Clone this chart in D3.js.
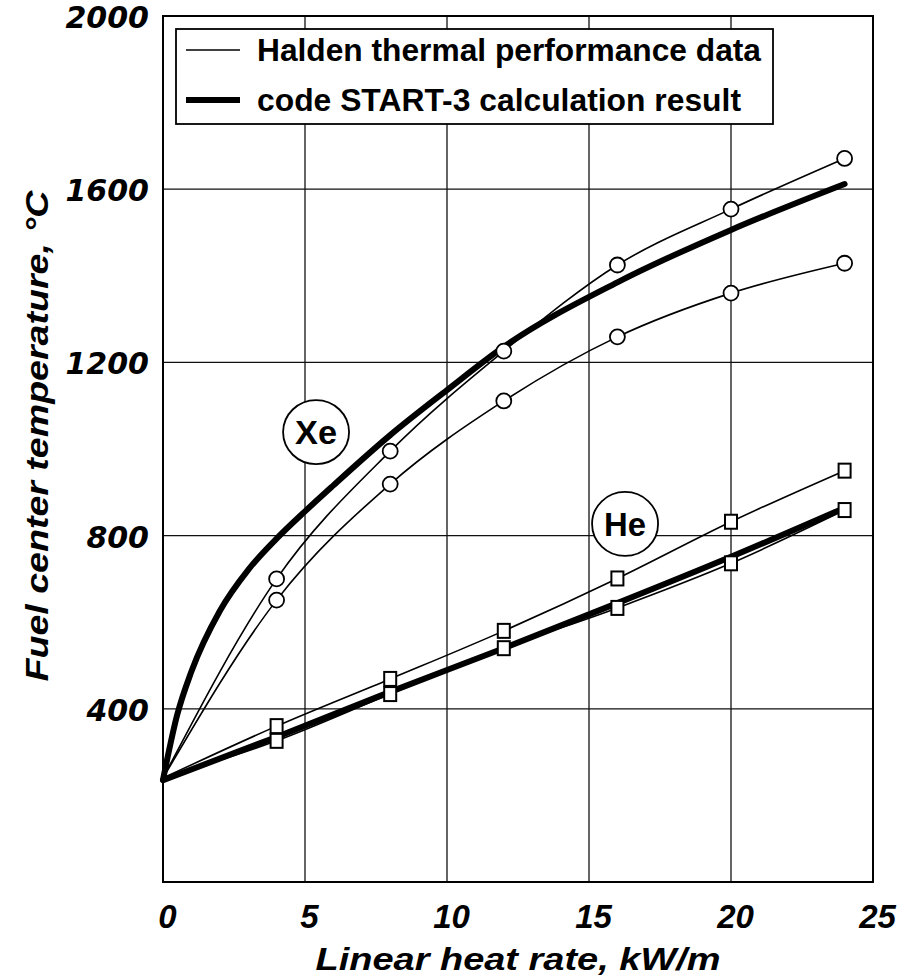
<!DOCTYPE html>
<html>
<head>
<meta charset="utf-8">
<script src="https://cdn.jsdelivr.net/npm/d3@7"></script>
<style>
  body { margin: 0; background: #fff; }
  svg { display: block; }
</style>
</head>
<body>
<div id="chart"></div>
<script>
// measured points (Halden) and code curves
const heatRate = [0, 4, 8, 12, 16, 20, 24];
const xeUpper = [240, 700, 995, 1226, 1425, 1554, 1671];
const xeLower = [240, 651, 919, 1111, 1259, 1360, 1429];
const heUpper = [240, 360, 469, 580, 701, 832, 950];
const heLower = [240, 326, 434, 540, 633, 736, 859];

const calcRateXe = [0, 0.5, 1, 2, 3, 4, 5, 6, 8, 10, 12, 16, 20, 24];
const xeCalc = [236, 386, 486, 626, 721, 793, 856, 916, 1032, 1136, 1236, 1385, 1506, 1612];
const calcRateHe = [0, 4, 8, 12, 16, 20, 24];
const heCalc = [235, 335, 439, 540, 644, 751, 864];

const xTicks = [0, 5, 10, 15, 20, 25];
const yTicks = [400, 800, 1200, 1600, 2000];
const legendLabels = ["Halden thermal performance data", "code START-3 calculation result"];
const gasLabels = [{ name: "Xe", x: 5.39, y: 1039 }, { name: "He", x: 16.27, y: 827 }];

const width = 901, height = 979;
const margin = { top: 16, right: 28, bottom: 97, left: 163 };

const svg = d3.select("#chart")
    .append("svg")
    .attr("width", width)
    .attr("height", height);

const x = d3.scaleLinear().domain([0, 25]).range([margin.left, width - margin.right]);
const y = d3.scaleLinear().domain([0, 2000]).range([height - margin.bottom, margin.top]);

// grid
svg.append("g")
    .selectAll("line")
    .data([5, 10, 15, 20])
    .join("line")
    .attr("x1", d => x(d)).attr("x2", d => x(d))
    .attr("y1", y(0)).attr("y2", y(2000))
    .attr("stroke", "#111").attr("stroke-width", 1.3);

svg.append("g")
    .selectAll("line")
    .data([400, 800, 1200, 1600])
    .join("line")
    .attr("x1", x(0)).attr("x2", x(25))
    .attr("y1", d => y(d)).attr("y2", d => y(d))
    .attr("stroke", "#111").attr("stroke-width", 1.3);

svg.append("rect")
    .attr("x", x(0)).attr("y", y(2000))
    .attr("width", x(25) - x(0)).attr("height", y(0) - y(2000))
    .attr("fill", "none").attr("stroke", "#000").attr("stroke-width", 2);

// axes
const xAxis = svg.append("g")
    .attr("transform", `translate(0,${y(0)})`)
    .call(d3.axisBottom(x).tickValues(xTicks).tickSize(0).tickPadding(0).tickFormat(d3.format("d")));
xAxis.selectAll("text")
    .attr("dx", 4)
    .attr("y", 46)
    .attr("dy", null)
    .style("font-family", "'Liberation Sans Narrow', 'Arial Narrow', 'Liberation Sans', sans-serif")
    .style("font-weight", "bold")
    .style("font-style", "italic")
    .style("font-size", "33px")
    .attr("fill", "#000");

const yAxis = svg.append("g")
    .attr("transform", `translate(${x(0)},0)`)
    .call(d3.axisLeft(y).tickValues(yTicks).tickSize(0).tickPadding(14).tickFormat(d3.format("d")));
yAxis.selectAll("text")
    .attr("dy", "0.38em")
    .style("font-family", "'DejaVu Sans', sans-serif")
    .style("font-weight", "bold")
    .style("font-style", "italic")
    .style("font-size", "30px")
    .attr("fill", "#000");

svg.selectAll(".domain").remove();

svg.append("text")
    .attr("x", (x(0) + x(25)) / 2)
    .attr("y", 970)
    .attr("text-anchor", "middle")
    .style("font-family", "'Liberation Sans', Arial, sans-serif")
    .style("font-weight", "bold")
    .style("font-style", "italic")
    .style("font-size", "32px")
    .attr("textLength", 405)
    .attr("lengthAdjust", "spacingAndGlyphs")
    .text("Linear heat rate, kW/m");

svg.append("text")
    .attr("transform", "translate(48,436) rotate(-90)")
    .attr("text-anchor", "middle")
    .style("font-family", "'Liberation Sans', Arial, sans-serif")
    .style("font-weight", "bold")
    .style("font-style", "italic")
    .style("font-size", "31px")
    .attr("textLength", 491)
    .attr("lengthAdjust", "spacingAndGlyphs")
    .text("Fuel center temperature, °C");

// curves
const line = d3.line()
    .x(d => x(d[0]))
    .y(d => y(d[1]))
    .curve(d3.curveMonotoneX);

const zip = (xs, ys) => xs.map((v, i) => [v, ys[i]]);

const calcSeries = [zip(calcRateXe, xeCalc), zip(calcRateHe, heCalc)];
const dataSeries = [
    { pts: zip(heatRate, xeUpper), marker: "circle" },
    { pts: zip(heatRate, xeLower), marker: "circle" },
    { pts: zip(heatRate, heUpper), marker: "square" },
    { pts: zip(heatRate, heLower), marker: "square" }
];

svg.append("g")
    .selectAll("path")
    .data(dataSeries)
    .join("path")
    .attr("d", d => line(d.pts))
    .attr("fill", "none")
    .attr("stroke", "#000")
    .attr("stroke-width", 1.6);

svg.append("g")
    .selectAll("path")
    .data(calcSeries)
    .join("path")
    .attr("d", d => line(d))
    .attr("fill", "none")
    .attr("stroke", "#000")
    .attr("stroke-width", 6)
    .attr("stroke-linecap", "round");

// markers (skip the origin point)
dataSeries.forEach(s => {
    const pts = s.pts.slice(1);
    if (s.marker === "circle") {
        svg.append("g")
            .selectAll("circle")
            .data(pts)
            .join("circle")
            .attr("cx", d => x(d[0]))
            .attr("cy", d => y(d[1]))
            .attr("r", 7.5)
            .attr("fill", "#fff")
            .attr("stroke", "#000")
            .attr("stroke-width", 1.8);
    } else {
        svg.append("g")
            .selectAll("rect")
            .data(pts)
            .join("rect")
            .attr("x", d => x(d[0]) - 6)
            .attr("y", d => y(d[1]) - 7)
            .attr("width", 12)
            .attr("height", 14)
            .attr("fill", "#fff")
            .attr("stroke", "#000")
            .attr("stroke-width", 2);
    }
});

// gas labels
const gas = svg.append("g")
    .selectAll("g")
    .data(gasLabels)
    .join("g")
    .attr("transform", d => `translate(${x(d.x)},${y(d.y)})`);
gas.append("ellipse")
    .attr("rx", 33).attr("ry", 32)
    .attr("fill", "#fff")
    .attr("stroke", "#000")
    .attr("stroke-width", 1.8);
gas.append("text")
    .attr("text-anchor", "middle")
    .attr("y", 12)
    .style("font-family", "'Liberation Sans', Arial, sans-serif")
    .style("font-weight", "bold")
    .style("font-size", "34px")
    .attr("textLength", 42)
    .attr("lengthAdjust", "spacingAndGlyphs")
    .text(d => d.name);

// legend
const legend = svg.append("g");
legend.append("rect")
    .attr("x", 176).attr("y", 29)
    .attr("width", 597).attr("height", 95)
    .attr("fill", "#fff")
    .attr("stroke", "#000")
    .attr("stroke-width", 1.8);

legend.selectAll("line")
    .data(legendLabels)
    .join("line")
    .attr("x1", 186).attr("x2", 240)
    .attr("y1", (d, i) => 50 + i * 50)
    .attr("y2", (d, i) => 50 + i * 50)
    .attr("stroke", "#000")
    .attr("stroke-width", (d, i) => i === 0 ? 1.6 : 6);

legend.selectAll("text")
    .data(legendLabels)
    .join("text")
    .attr("x", 257)
    .attr("y", (d, i) => 61 + i * 50)
    .style("font-family", "'Liberation Sans', Arial, sans-serif")
    .style("font-weight", "bold")
    .style("font-size", "32px")
    .attr("textLength", (d, i) => i === 0 ? 504 : 484)
    .attr("lengthAdjust", "spacingAndGlyphs")
    .text(d => d);
</script>
</body>
</html>
